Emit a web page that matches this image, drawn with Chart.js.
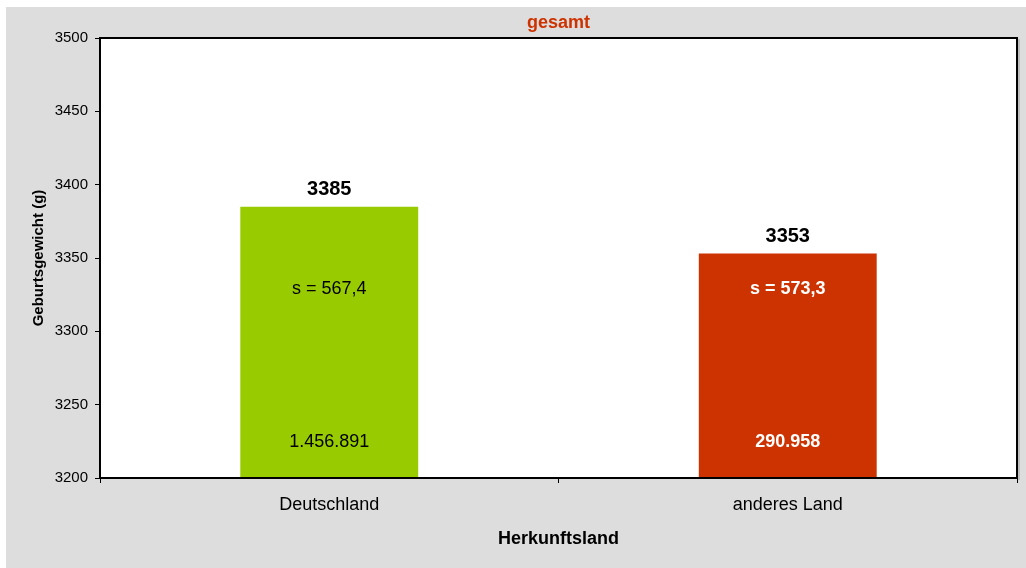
<!DOCTYPE html>
<html lang="de">
<head>
<meta charset="utf-8">
<title>Geburtsgewicht nach Herkunftsland</title>
<script src="https://cdn.jsdelivr.net/npm/chart.js@4/dist/chart.umd.min.js"></script>
<style>
  html, body { margin: 0; padding: 0; background: #fff; }
  #wrap { width: 1026px; height: 568px; }
</style>
</head>
<body>
<div id="wrap"><canvas id="chart" width="1026" height="568"></canvas></div>
<script>
// Daten
const categories = ['Deutschland', 'anderes Land'];
const meanWeight = [3385, 3353];
const stdDev = ['s = 567,4', 's = 573,3'];
const caseCount = ['1.456.891', '290.958'];
const barColors = ['#99cc00', '#cc3300'];
const innerTextColors = ['#000000', '#ffffff'];
const innerTextBold = [false, true];

const FONT = '"Liberation Sans", Arial, sans-serif';

// Hintergrund, Rahmen und Beschriftungen
const decoPlugin = {
  id: 'deco',
  beforeDraw(chart) {
    const { ctx, chartArea: a, width, height } = chart;
    ctx.save();
    ctx.fillStyle = '#ffffff';
    ctx.fillRect(0, 0, width, height);
    ctx.fillStyle = '#dddddd';
    ctx.fillRect(6, 7, width - 6, height - 7);
    ctx.fillStyle = '#ffffff';
    ctx.fillRect(a.left, a.top, a.right - a.left, a.bottom - a.top);
    ctx.restore();
  },
  afterDatasetsDraw(chart) {
    const { ctx, chartArea: a } = chart;
    const meta = chart.getDatasetMeta(0);
    ctx.save();
    ctx.textAlign = 'center';
    meta.data.forEach((bar, i) => {
      ctx.fillStyle = '#000';
      ctx.font = 'bold 20px ' + FONT;
      ctx.textBaseline = 'alphabetic';
      ctx.fillText(String(meanWeight[i]), bar.x, bar.y - 12);

      ctx.fillStyle = innerTextColors[i];
      ctx.font = (innerTextBold[i] ? 'bold ' : '') + '18px ' + FONT;
      ctx.textBaseline = 'middle';
      ctx.fillText(stdDev[i], bar.x, a.bottom - 189);
      ctx.fillText(caseCount[i], bar.x, a.bottom - 36);
    });
    ctx.restore();
  },
  afterDraw(chart) {
    const { ctx, chartArea: a } = chart;
    ctx.save();
    ctx.strokeStyle = '#a0a0a0';
    ctx.lineWidth = 1;
    ctx.beginPath();
    ctx.moveTo(a.right + 2, a.top + 1);
    ctx.lineTo(a.right + 2, a.bottom + 2);
    ctx.stroke();
    ctx.strokeStyle = '#000';
    ctx.lineWidth = 2;
    ctx.strokeRect(a.left, a.top, a.right - a.left, a.bottom - a.top);
    ctx.restore();
  }
};

new Chart(document.getElementById('chart'), {
  type: 'bar',
  data: {
    labels: categories,
    datasets: [{
      data: meanWeight,
      backgroundColor: barColors,
      borderWidth: 0,
      categoryPercentage: 1,
      barPercentage: 0.388
    }]
  },
  options: {
    responsive: false,
    animation: false,
    devicePixelRatio: 1,
    layout: { padding: { left: 0, right: 9, top: 0, bottom: 0 } },
    plugins: {
      legend: { display: false },
      tooltip: { enabled: false },
      title: {
        display: true,
        fullSize: false,
        text: 'gesamt',
        color: '#cc3300',
        font: { family: FONT, size: 18, weight: 'bold' },
        padding: { top: 12, bottom: 4.4 }
      }
    },
    scales: {
      x: {
        offset: true,
        grid: {
          offset: true,
          drawOnChartArea: false,
          drawTicks: true,
          tickLength: 5,
          color: '#000',
          lineWidth: 1
        },
        border: { display: false },
        ticks: {
          color: '#000',
          font: { family: FONT, size: 18 },
          padding: 11,
          maxRotation: 0
        },
        title: {
          display: true,
          text: 'Herkunftsland',
          color: '#000',
          font: { family: FONT, size: 18, weight: 'bold' },
          padding: { top: 0, bottom: 18 }
        },
        afterFit(scale) { scale.height = 90; }
      },
      y: {
        min: 3200,
        max: 3500,
        grid: {
          drawOnChartArea: false,
          drawTicks: true,
          tickLength: 5,
          color: '#000',
          lineWidth: 1
        },
        border: { display: false },
        ticks: {
          stepSize: 50,
          color: '#000',
          font: { family: FONT, size: 15 },
          padding: 7,
          callback: (v) => String(v)
        },
        title: {
          display: true,
          text: 'Geburtsgewicht (g)',
          color: '#000',
          font: { family: FONT, size: 15, weight: 'bold' },
          padding: { top: 30, bottom: 0 }
        },
        afterFit(scale) { scale.width = 100; }
      }
    }
  },
  plugins: [decoPlugin]
});
</script>
</body>
</html>
